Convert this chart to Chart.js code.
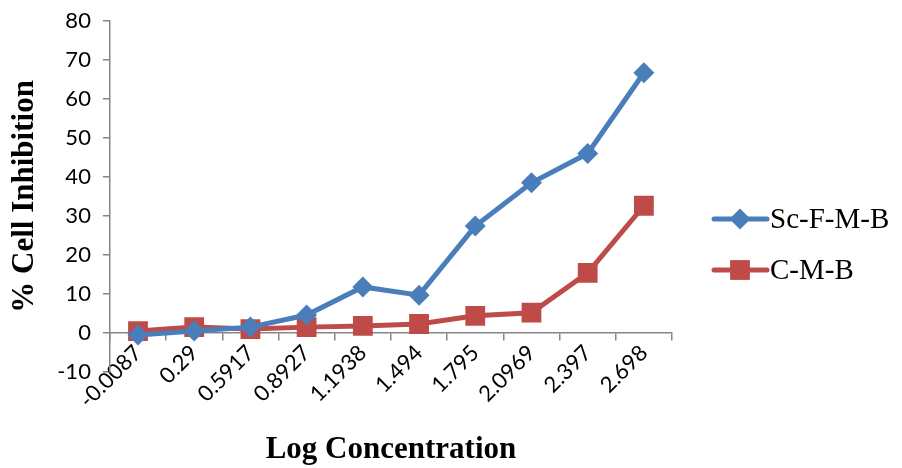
<!DOCTYPE html>
<html>
<head>
<meta charset="utf-8">
<script src="https://cdn.jsdelivr.net/npm/chart.js@4/dist/chart.umd.min.js"></script>
<style>
  html, body { margin: 0; padding: 0; background: #fff; }
  #wrap { width: 902px; height: 468px; position: relative; }
</style>
</head>
<body>
<div id="wrap"><canvas id="inhibitionChart"></canvas></div>
<script>
  // values
  const logConc = ["-0.0087", "0.29", "0.5917", "0.8927", "1.1938", "1.494", "1.795", "2.0969", "2.397", "2.698"];
  const scFMB = [-0.5, 0.5, 1.5, 4.6, 11.8, 9.7, 27.4, 38.5, 46, 66.7];
  const cMB = [0.5, 1.5, 1.0, 1.5, 1.8, 2.3, 4.4, 5.2, 15.4, 32.6];
  const seriesNames = ["Sc-F-M-B", "C-M-B"];

  const blue = "#4A7EBB";
  const red = "#BE4B48";
  const axisGrey = "#868686";

  // legend + x title drawn by hand (line with marker, like the office legend)
  const sideLegend = {
    id: "sideLegend",
    afterDraw(chart) {
      const ctx = chart.ctx;
      const area = chart.chartArea;
      ctx.save();
      ctx.fillStyle = "#000";
      ctx.font = "bold 31px 'Liberation Serif'";
      ctx.textAlign = "center";
      ctx.textBaseline = "middle";
      ctx.fillText("Log Concentration", (area.left + area.right) / 2, 450);

      const items = [
        { name: seriesNames[0], color: blue, style: "rectRot", r: 10.5, y: 219 },
        { name: seriesNames[1], color: red, style: "rect", r: 14, y: 270 },
      ];
      items.forEach((it) => {
        ctx.strokeStyle = it.color;
        ctx.lineWidth = 5;
        ctx.lineCap = "round";
        ctx.beginPath();
        ctx.moveTo(714, it.y);
        ctx.lineTo(767, it.y);
        ctx.stroke();
        ctx.fillStyle = it.color;
        Chart.helpers.drawPoint(ctx, { pointStyle: it.style, radius: it.r, borderWidth: 0 }, 740, it.y);
        ctx.fillStyle = "#000";
        ctx.font = "29px 'Liberation Serif'";
        ctx.textAlign = "left";
        ctx.fillText(it.name, 770, it.y + 1);
      });
      ctx.restore();
    },
  };

  new Chart(document.getElementById("inhibitionChart").getContext("2d"), {
    type: "line",
    data: {
      labels: logConc,
      datasets: [
        {
          label: seriesNames[0],
          data: scFMB,
          borderColor: blue,
          backgroundColor: blue,
          borderWidth: 5,
          pointStyle: "rectRot",
          pointRadius: 10.5,
          pointHoverRadius: 10.5,
          pointBorderWidth: 0,
          tension: 0,
        },
        {
          label: seriesNames[1],
          data: cMB,
          borderColor: red,
          backgroundColor: red,
          borderWidth: 5,
          pointStyle: "rect",
          pointRadius: 14,
          pointHoverRadius: 14,
          pointBorderWidth: 0,
          tension: 0,
        },
      ],
    },
    options: {
      responsive: true,
      maintainAspectRatio: false,
      animation: false,
      layout: { padding: { top: 0, right: 230, bottom: 96, left: 4 } },
      plugins: {
        legend: { display: false },
        tooltip: { enabled: false },
      },
      scales: {
        x: {
          type: "category",
          position: { y: 0 },
          offset: true,
          grid: {
            drawOnChartArea: false,
            drawTicks: true,
            tickLength: 7,
            offset: true,
            color: axisGrey,
            lineWidth: 1.5,
          },
          border: { color: axisGrey, width: 1.5 },
          ticks: {
            minRotation: 45,
            maxRotation: 45,
            color: "#000",
            font: { family: "Lato", size: 22 },
            padding: 0,
          },
        },
        y: {
          min: -10,
          max: 80,
          grid: {
            drawOnChartArea: false,
            drawTicks: true,
            tickLength: 7,
            color: axisGrey,
            lineWidth: 1.5,
          },
          border: { color: axisGrey, width: 1.5 },
          ticks: {
            stepSize: 10,
            color: "#000",
            font: { family: "Lato", size: 22, lineHeight: 0.8 },
            padding: 12,
          },
          title: {
            display: true,
            text: "% Cell Inhibition",
            color: "#000",
            font: { family: "Liberation Serif", size: 31, weight: "bold" },
            padding: { top: 2, bottom: 2 },
          },
        },
      },
    },
    plugins: [sideLegend],
  });
</script>
</body>
</html>
